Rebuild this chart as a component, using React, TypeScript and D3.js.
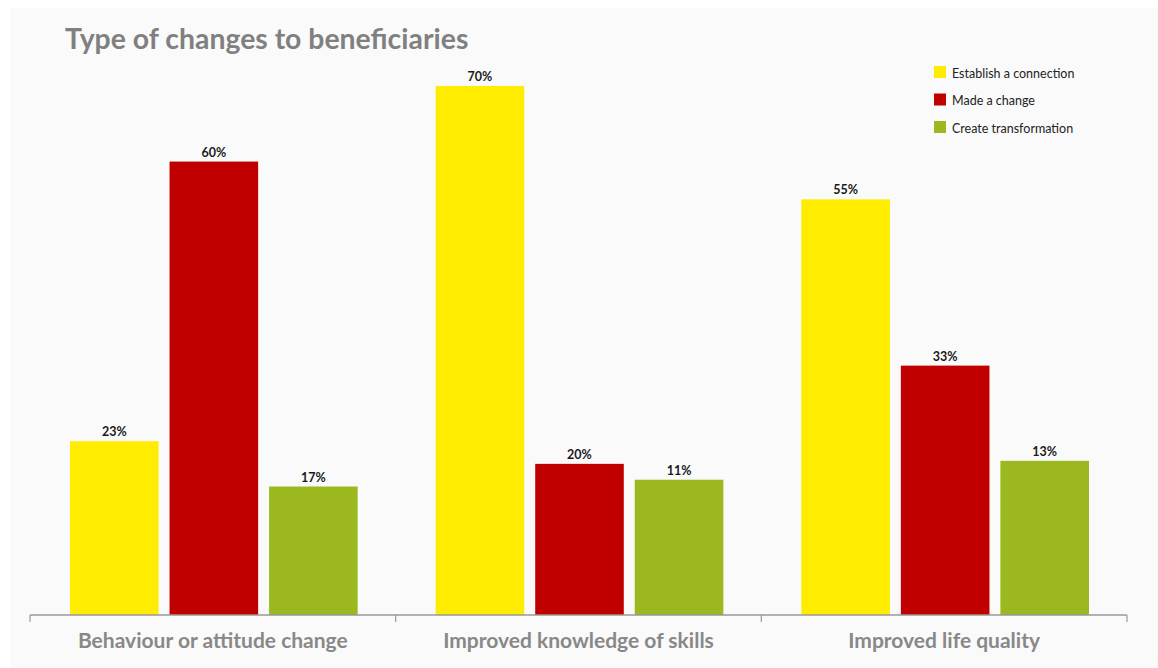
import React from "react";
import * as d3 from "d3";

const categories = ["Behaviour or attitude change", "Improved knowledge of skills", "Improved life quality"];
const seriesNames = ["Establish a connection", "Made a change", "Create transformation"];
const seriesColors = ["#FFEC00", "#C00000", "#9BB81E"];
// bar heights as drawn (percent)
const connectionValues = [23, 70, 55];
const changeValues = [60, 20, 33];
const transformationValues = [17, 17.9, 20.4];
// labels printed above the bars
const connectionLabels = ["23%", "70%", "55%"];
const changeLabels = ["60%", "20%", "33%"];
const transformationLabels = ["17%", "11%", "13%"];

const W = 1158;
const H = 668;
const FONT = "Lato, 'Open Sans', sans-serif";

export default function App() {
  const values = [connectionValues, changeValues, transformationValues];
  const labels = [connectionLabels, changeLabels, transformationLabels];

  const x0 = d3.scaleBand<string>().domain(categories).range([30, 1127]).padding(0);
  const bw = x0.bandwidth();
  const x1 = d3.scaleBand<string>().domain(seriesNames).range([40, bw - 38]).paddingInner(0.11);
  const y = d3.scaleLinear().domain([0, 70]).range([615, 86]);

  const tickXs = [...categories.map((c) => x0(c)!), 1127];

  return (
    <svg width={W} height={H} style={{ position: "absolute", left: 0, top: 0, display: "block" }}>
      <rect x={0} y={0} width={W} height={H} fill="#ffffff" />
      <rect x={10} y={8} width={W - 10} height={H - 8} fill="#fafafa" />
      <text x={65} y={49} fontFamily={FONT} fontWeight={700} fontSize={28.4} fill="#808080">
        Type of changes to beneficiaries
      </text>

      {categories.map((c, ci) => (
        <g key={c} transform={`translate(${x0(c)},0)`}>
          {seriesNames.map((s, si) => {
            const v = values[si][ci];
            const bx = x1(s)!;
            return (
              <g key={s}>
                <rect x={bx} y={y(v)} width={x1.bandwidth()} height={y(0) - y(v)} fill={seriesColors[si]} />
                <text
                  x={bx + x1.bandwidth() / 2}
                  y={y(v) - 5}
                  textAnchor="middle"
                  fontFamily={FONT}
                  fontWeight={700}
                  fontSize={12.5}
                  fill="#1a1a1a"
                >
                  {labels[si][ci]}
                </text>
              </g>
            );
          })}
          <text
            x={bw / 2}
            y={648}
            textAnchor="middle"
            fontFamily={FONT}
            fontWeight={700}
            fontSize={21}
            fill="#888888"
          >
            {c}
          </text>
        </g>
      ))}

      <line x1={30} x2={1127} y1={615} y2={615} stroke="#999999" strokeWidth={1.5} />
      {tickXs.map((t, i) => (
        <line key={i} x1={t} x2={t} y1={615} y2={622} stroke="#999999" strokeWidth={1.2} />
      ))}

      {seriesNames.map((s, i) => (
        <g key={s} transform={`translate(934,${66 + i * 27.5})`}>
          <rect x={0} y={0} width={12} height={12} fill={seriesColors[i]} />
          <text x={18} y={11.5} fontFamily={FONT} fontSize={12.5} fill="#222222">
            {s}
          </text>
        </g>
      ))}
    </svg>
  );
}
